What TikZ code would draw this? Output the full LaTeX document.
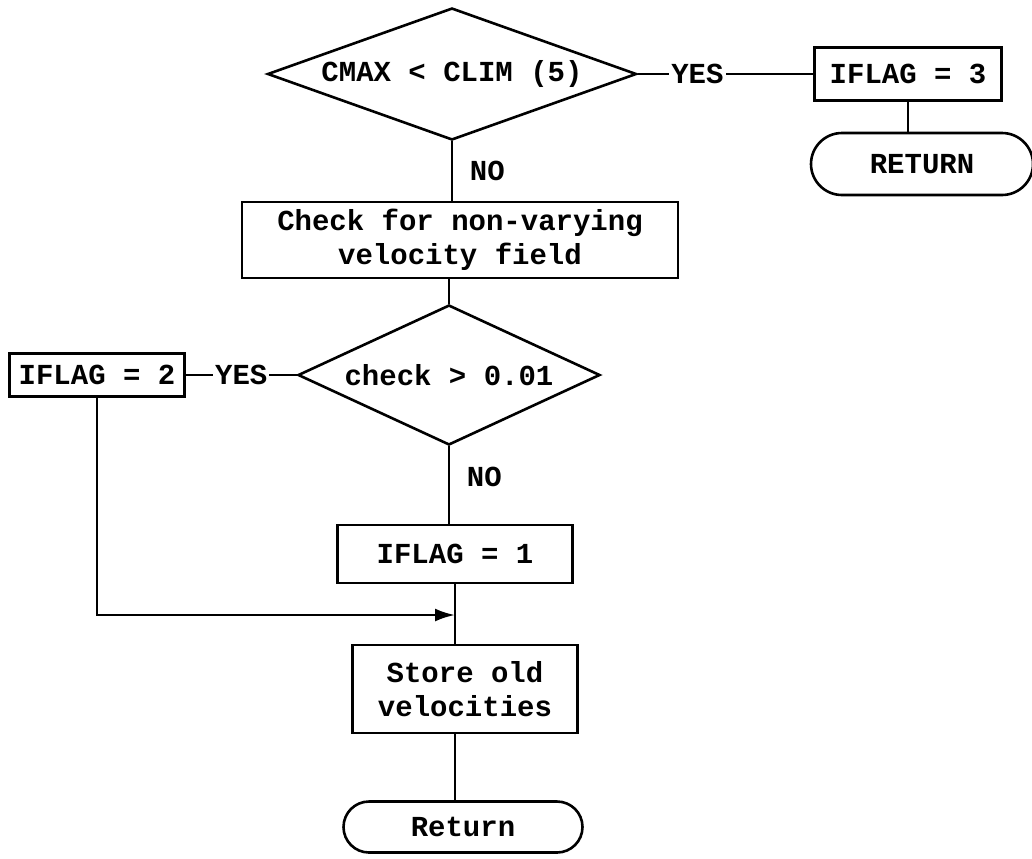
\documentclass[tikz,border=0pt]{standalone}
\usepackage{fontspec}
\setmonofont{Liberation Mono}
\usetikzlibrary{shapes.geometric,shapes.misc,arrows.meta}
\begin{document}
\begin{tikzpicture}[x=0.5pt, y=-0.5pt,
		>={Latex[length=10pt,width=6.5pt]},   % arrow tips
		font=\ttfamily\bfseries\fontsize{14.5}{17}\selectfont, line width=1.3pt,
		box/.style={draw, rectangle, align=center, inner sep=2pt},
		test/.style={draw, diamond, aspect=3, inner sep=0pt},
		term/.style={draw, rounded rectangle, inner sep=2pt},
		lbl/.style={fill=white, inner sep=1pt}]
		% picture frame
		\useasboundingbox (0,0) rectangle (1032,858);
		% upper branch
		\node[test, minimum width=184.5pt, minimum height=66pt] (cmax) at (452,74) {CMAX < CLIM (5)};
		\node[box, minimum width=93.5pt, minimum height=26.5pt] (flag3) at (908,74) {IFLAG = 3};
		\node[term, minimum width=115pt, minimum height=31pt] (ret1) at (922,164) {RETURN};
		% main column
		\node[box, minimum width=218pt, minimum height=38pt] (check) at (460,240) {Check for non-varying\\velocity field};
		\node[test, minimum width=151pt, minimum height=70pt] (dcheck) at (449,375) {check > 0.01};
		\node[box, minimum width=87.5pt, minimum height=21.5pt] (flag2) at (97,375) {IFLAG = 2};
		\node[box, minimum width=117.5pt, minimum height=29pt] (flag1) at (455,554) {IFLAG = 1};
		\node[box, minimum width=112.5pt, minimum height=44pt] (store) at (465,689) {Store old\\velocities};
		\node[term, minimum width=123.5pt, minimum height=25.5pt] (ret2) at (463,827) {Return};
		\coordinate (join) at (455,615);
		% connectors
		\draw (cmax.east) -- node[lbl, pos=0.34] {YES} (flag3.west);
		\draw (flag3.south) -- (flag3.south |- ret1.north);
		\draw (cmax.south) -- node[right=5pt] {NO} (cmax.south |- check.north);
		\draw (check.south -| dcheck.north) -- (dcheck.north);
		\draw (flag2.east) -- node[lbl, pos=0.5] {YES} (dcheck.west);
		\draw (dcheck.south) -- node[right=5pt, pos=0.4] {NO} (dcheck.south |- flag1.north);
		\draw (flag1.south) -- (flag1.south |- store.north);
		\draw[->] (flag2.south) |- (join);
		\draw (flag1.south |- store.south) -- (flag1.south |- ret2.north);
\end{tikzpicture}
\end{document}
